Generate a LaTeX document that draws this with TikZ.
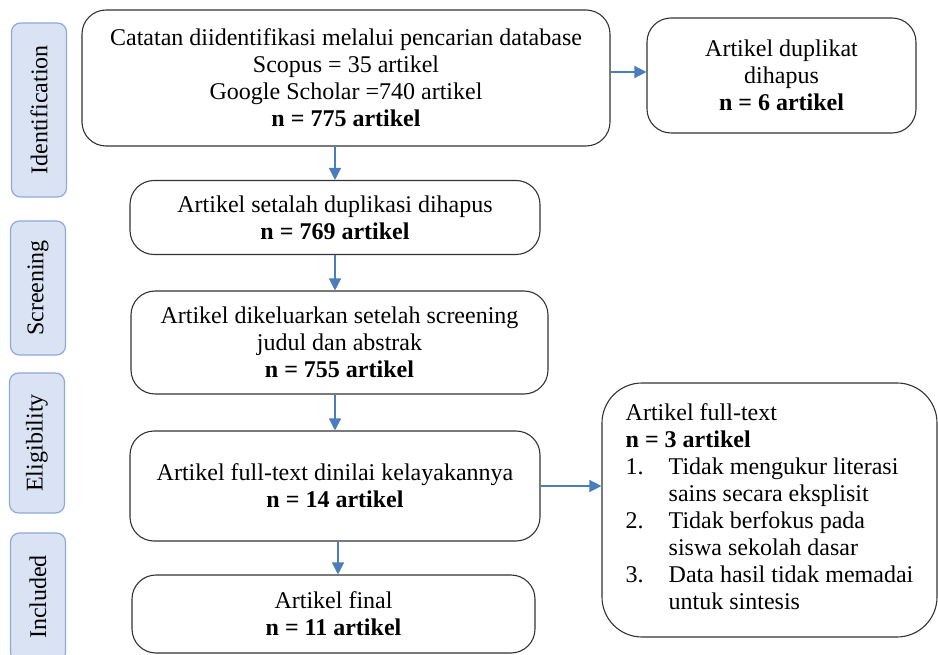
\documentclass[tikz,border=0pt]{standalone}
\usepackage{fontspec}
\setmainfont{Liberation Serif}
\usetikzlibrary{arrows.meta}
\definecolor{phasefill}{HTML}{DAE3F3}
\definecolor{phaseline}{HTML}{8EAADB}
\definecolor{flowblue}{HTML}{4A7EBB}
\tikzset{
    phase/.style={draw=phaseline, fill=phasefill, line width=1.2pt, rounded corners=9pt,
        rotate=90, minimum height=55pt, inner sep=0pt, font=\fontsize{24}{27}\selectfont},
    stepbox/.style={draw=black!80, line width=1.1pt, rounded corners=24pt, align=center,
        inner sep=0pt, font=\fontsize{24}{27}\selectfont},
    flow/.style={draw=flowblue, line width=1.3pt, -{Triangle[length=12pt,width=12pt]}}
}
\begin{document}
\begin{tikzpicture}[x=1pt,y=-1pt]
    \useasboundingbox[fill=white] (0,0) rectangle (938,655);
    %% phases
    \node[phase, minimum width=174pt] (ident) at (39,110) {Identification};
    \node[phase, minimum width=134pt] (screen) at (38,288) {Screening};
    \node[phase, minimum width=140pt] (elig) at (37,443) {Eligibility};
    \node[phase, minimum width=128pt] (incl) at (38,597) {Included};
    %% main flow
    \node[stepbox, minimum width=528pt, minimum height=136pt] (found) at (346,78)
        {Catatan diidentifikasi melalui pencarian database\\ Scopus = 35 artikel\\
         Google Scholar =740 artikel\\ \textbf{n = 775 artikel}};
    \node[stepbox, minimum width=269pt, minimum height=115pt] (dupl) at (781.5,75.5)
        {Artikel duplikat\\ dihapus\\ \textbf{n = 6 artikel}};
    \node[stepbox, minimum width=410pt, minimum height=74pt] (nodup) at (335,217.5)
        {Artikel setalah duplikasi dihapus\\ \textbf{n = 769 artikel}};
    \node[stepbox, minimum width=417pt, minimum height=103pt] (screened) at (339.5,342.5)
        {Artikel dikeluarkan setelah screening\\ judul dan abstrak\\ \textbf{n = 755 artikel}};
    \node[stepbox, minimum width=410pt, minimum height=110pt] (fulltext) at (335,486)
        {Artikel full-text dinilai kelayakannya\\ \textbf{n = 14 artikel}};
    \node[stepbox, minimum width=403pt, minimum height=78pt] (final) at (333.5,614)
        {Artikel final\\ \textbf{n = 11 artikel}};
    \node[stepbox, rounded corners=40pt, minimum width=335pt, minimum height=254pt] (excluded) at (769.5,510)
        {\def\arraystretch{1}\begin{tabular}{@{}p{43pt}@{}l@{}}
            \multicolumn{2}{@{}l@{}}{Artikel full-text}\\
            \multicolumn{2}{@{}l@{}}{\textbf{n = 3 artikel}}\\
            1. & Tidak mengukur literasi\\
               & sains secara eksplisit\\
            2. & Tidak berfokus pada\\
               & siswa sekolah dasar\\
            3. & Data hasil tidak memadai\\
               & untuk sintesis
        \end{tabular}};
    \coordinate (finaltop) at ([xshift=4.5pt]final.north);
    %% arrows
    \draw[flow] (nodup.north |- found.south) -- (nodup.north);
    \draw[flow] (found.east |- 0,72) -- (dupl.west |- 0,72);
    \draw[flow] (nodup.south) -- (nodup.south |- screened.north);
    \draw[flow] (fulltext.north |- screened.south) -- (fulltext.north);
    \draw[flow] (finaltop |- fulltext.south) -- (finaltop);
    \draw[flow] (fulltext.east) -- (fulltext.east -| excluded.west);
\end{tikzpicture}
\end{document}
